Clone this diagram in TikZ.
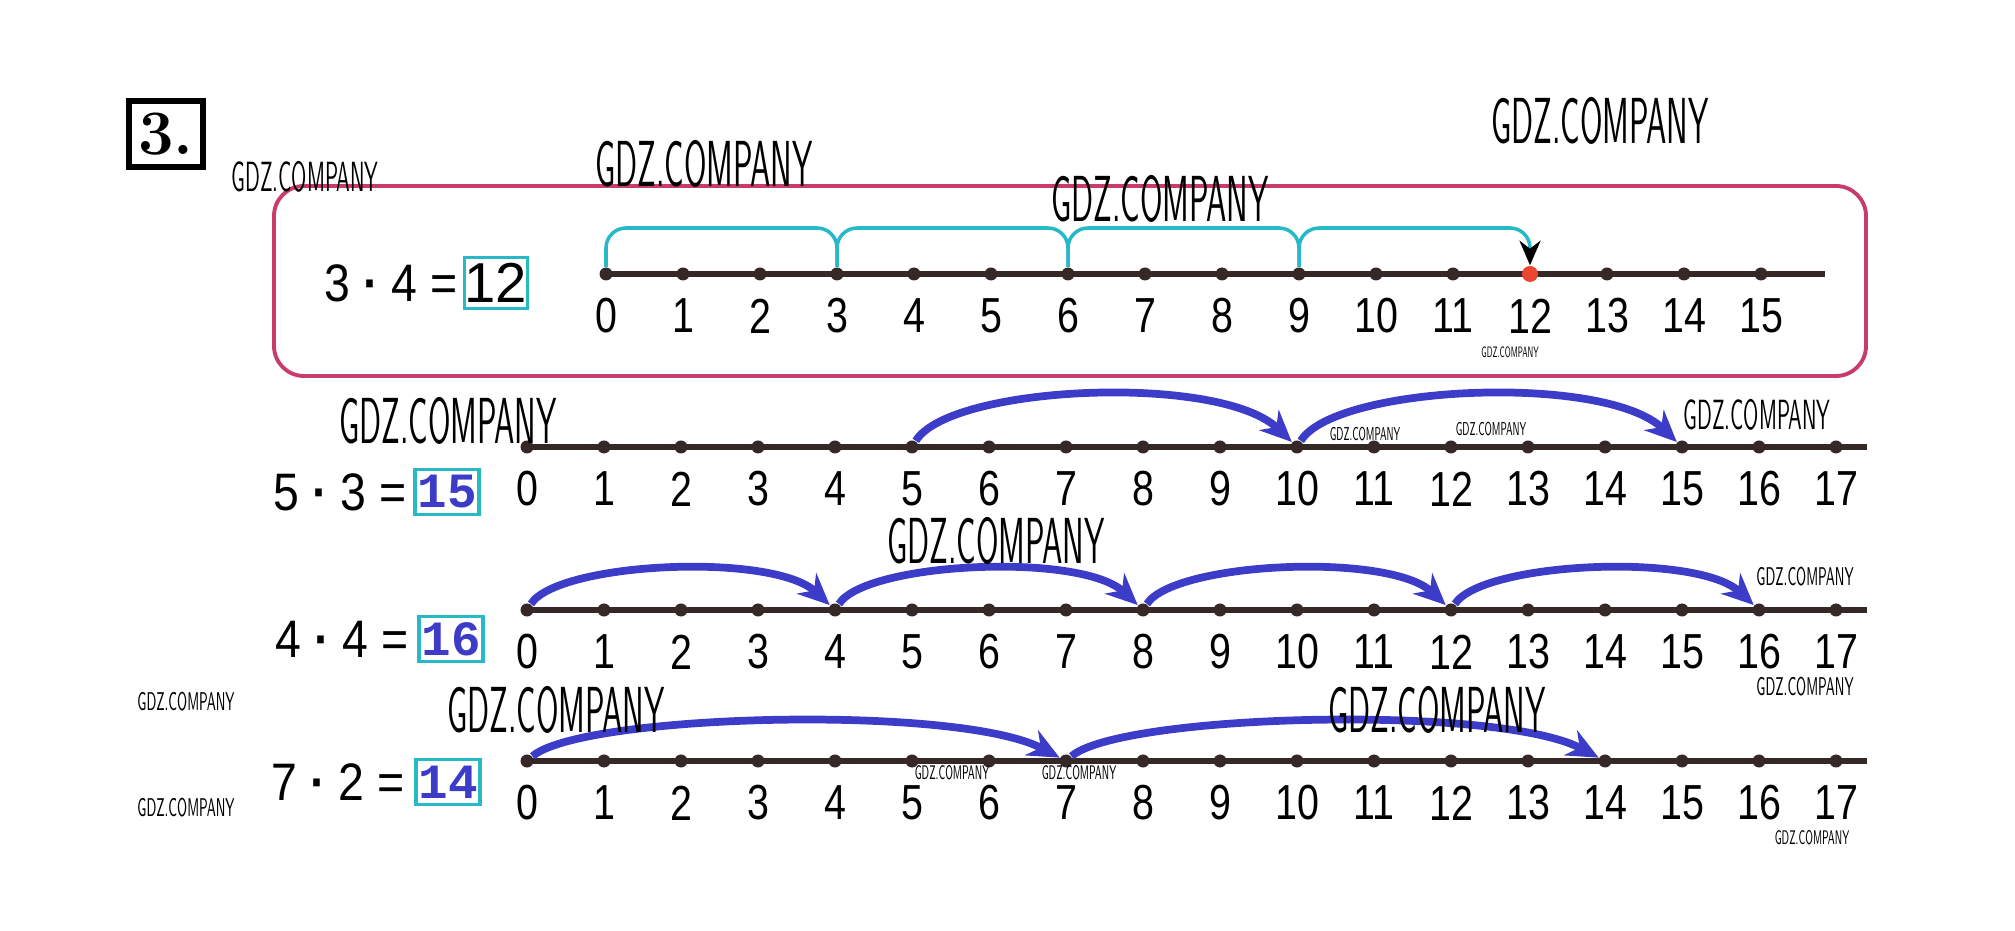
\documentclass[tikz,border=0pt]{standalone}
\usepackage{fontspec}
\usetikzlibrary{arrows.meta,positioning}
\newfontfamily\numfont{Liberation Sans}
\newfontfamily\ansfont{Liberation Mono}
\definecolor{framered}{RGB}{200,60,105}
\definecolor{hopcyan}{RGB}{40,185,200}
\definecolor{penblue}{RGB}{60,60,200}
\definecolor{linebrown}{RGB}{55,40,40}
\definecolor{dotred}{RGB}{235,70,50}
\newcommand{\gdz}[1]{{\sffamily\fontsize{#1}{#1}\selectfont\scalebox{0.5}[1]{GDZ.COMPANY}}}
\newcommand{\eqtext}[2]{\scalebox{0.88}[1]{#1 \textbf{·} #2 =}}

\begin{document}
\begin{tikzpicture}
    [
        x = 0.01cm, y = -0.01cm,
        dot/.style    = {circle, fill=linebrown, inner sep=0pt, minimum size=0.13cm},
        axis/.style   = {draw=linebrown, line width=1.6pt},
        numlbl/.style = {font=\numfont\fontsize{14pt}{14pt}\selectfont, inner sep=0pt},
        eqn/.style    = {font=\numfont\fontsize{15pt}{15pt}\selectfont, inner sep=0pt, anchor=east},
        ansbox/.style = {draw=hopcyan, line width=1pt, minimum width=0.64cm, minimum height=0.45cm, inner sep=0pt,
                         font=\ansfont\bfseries\fontsize{14pt}{14pt}\selectfont, text=penblue},
        hop/.style    = {draw=hopcyan, line width=1pt, rounded corners=2mm},
        jump/.style   = {draw=penblue, line width=2.2pt, -{Stealth[length=9pt,width=8pt]}},
        frame/.style  = {draw=framered, line width=1.1pt, rounded corners=3mm},
        wm/.style     = {inner sep=0pt}
    ]
    \useasboundingbox (0,0) rectangle (2015,931);

    % task number and frame
    \node [draw, line width=1.5pt, font=\bfseries\fontsize{18pt}{18pt}\selectfont,
           minimum width=0.74cm, minimum height=0.66cm, inner sep=0pt] (task) at (166,134) {3.};
    \draw [frame] (274,186) rectangle (1866,376);

    % first line: 3 * 4
    \coordinate (s1) at (606,274);
    \coordinate (e1) at (1825,274);
    \draw [axis] (s1) -- (e1);
    \foreach \i in {0,...,15} {
        \node [dot] (n1-\i) at ({606+77*\i},274) {};
        \node [numlbl] (l1-\i) at ({606+77*\i},316) {\scalebox{0.8}[1]{\i}};
    }
    \node [dot, fill=dotred, minimum size=0.16cm] (red) at (n1-12) {};
    \foreach \a/\b in {0/3,3/6,6/9}
        \draw [hop] (n1-\a) -- ++(0,-46) -| (n1-\b);
    \draw [hop, -{Stealth[black,length=7pt,width=6pt]}] (n1-9) -- ++(0,-46) -| (red);
    \node [eqn] (q1) at (458,283) {\eqtext{3}{4}};
    \node [ansbox, minimum width=0.62cm, minimum height=0.51cm, text=black,
           font=\numfont\fontsize{16pt}{16pt}\selectfont] (a1) at (496,283) {12};

    % the other three lines
    \foreach \r/\y in {2/447,3/610,4/761} {
        \coordinate (s\r) at (527,\y);
        \coordinate (e\r) at (1867,\y);
        \draw [axis] (s\r) -- (e\r);
        \foreach \i in {0,...,17} {
            \node [dot] (n\r-\i) at ({527+77*\i},\y) {};
            \node [numlbl] (l\r-\i) at ({527+77*\i},{\y+42}) {\scalebox{0.8}[1]{\i}};
        }
    }

    \node [eqn] (q2) at (407,492) {\eqtext{5}{3}};
    \node [ansbox] (a2) at (447,492) {15};
    \foreach \a/\b in {5/10,10/15}
        \draw [jump] (n2-\a) .. controls +(38,-62) and +(-77,-74) .. (n2-\b);

    \node [eqn] (q3) at (409,639) {\eqtext{4}{4}};
    \node [ansbox] (a3) at (451,639) {16};
    \foreach \a/\b in {0/4,4/8,8/12,12/16}
        \draw [jump] (n3-\a) .. controls +(31,-48) and +(-62,-58) .. (n3-\b);

    \node [eqn] (q4) at (405,782) {\eqtext{7}{2}};
    \node [ansbox] (a4) at (448,782) {14};
    \foreach \a/\b in {0/7,7/14}
        \draw [jump] (n4-\a) .. controls +(54,-47) and +(-108,-57) .. (n4-\b);

    % watermarks
    \foreach \x/\y/\s [count=\k] in {305/177/12pt, 704/164/18.5pt, 1600/121/18.5pt, 1160/199/18.5pt,
        1510/352/4.3pt, 448/421/18.5pt, 1365/434/5.3pt, 1491/429/5.3pt, 1757/415/12pt,
        996/541/18.5pt, 1805/577/7.3pt, 186/702/7.3pt, 556/710/18.5pt, 1437/710/18.5pt,
        1805/687/7.3pt, 952/773/5.6pt, 1079/773/5.6pt, 186/808/7.3pt, 1812/838/5.6pt}
        \node [wm] (w\k) at (\x,\y) {\gdz{\s}};
\end{tikzpicture}
\end{document}
